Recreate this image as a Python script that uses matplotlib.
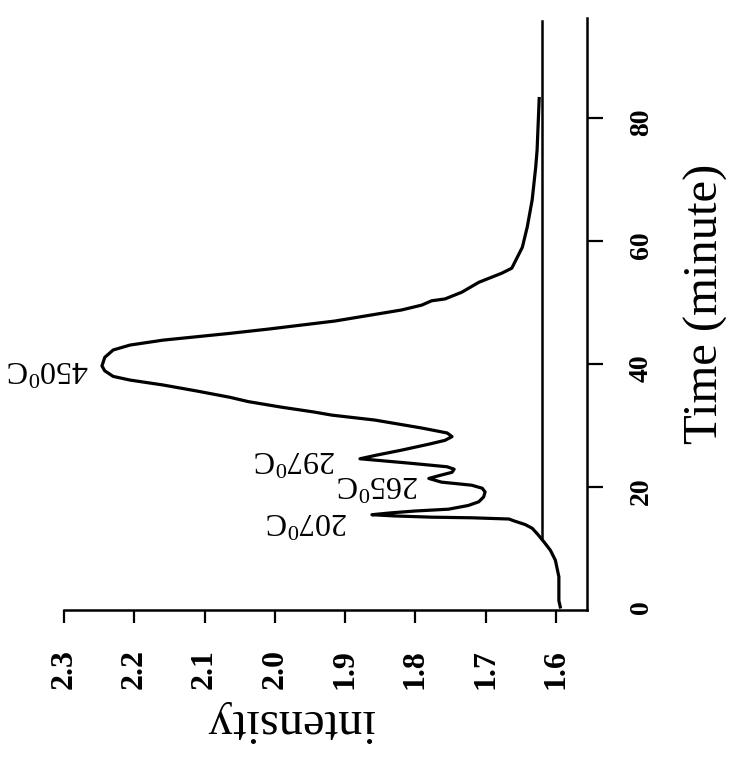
"""Rotated thermogram: intensity vs. time with labelled temperature peaks."""
import matplotlib
matplotlib.use("Agg")
import matplotlib.pyplot as plt

plt.rcParams["font.family"] = ["Liberation Serif", "DejaVu Serif"]
plt.rcParams["mathtext.fontset"] = "custom"
plt.rcParams["mathtext.rm"] = "Liberation Serif"

# curve (time in minutes, intensity)
time_min = [0.5, 1.5, 5.4, 8.1, 9.7, 10.9, 12.3, 13.3, 13.9, 14.5, 14.8, 15.0,
            15.1, 15.3, 15.5, 15.8, 16.1, 16.4, 17.0, 17.6, 18.4, 19.2, 19.8,
            20.3, 20.8, 21.4, 21.9, 22.4, 22.9, 23.3, 23.9, 24.6, 25.2, 26.0,
            27.0, 27.6, 28.2, 28.8, 29.6, 30.9, 31.7, 32.2, 33.0, 33.9, 34.6,
            35.6, 36.6, 37.4, 38.0, 38.9, 39.7, 41.1, 42.3, 43.1, 43.9, 45.0,
            45.7, 46.6, 47.0, 48.8, 49.6, 50.3, 50.6, 51.7, 53.3, 54.8, 55.6,
            59.0, 62.3, 66.7, 72.0, 74.8, 83.2]
intensity = [1.594, 1.596, 1.596, 1.601, 1.608, 1.616, 1.626, 1.634, 1.644,
             1.660, 1.667, 1.720, 1.777, 1.830, 1.862, 1.835, 1.801, 1.753,
             1.725, 1.710, 1.703, 1.701, 1.705, 1.720, 1.763, 1.781, 1.765,
             1.748, 1.745, 1.755, 1.810, 1.879, 1.855, 1.820, 1.780, 1.758,
             1.748, 1.755, 1.791, 1.858, 1.919, 1.944, 1.991, 2.038, 2.064,
             2.110, 2.159, 2.206, 2.230, 2.242, 2.246, 2.242, 2.230, 2.206,
             2.159, 2.064, 2.009, 1.944, 1.915, 1.820, 1.791, 1.777, 1.758,
             1.734, 1.710, 1.677, 1.663, 1.648, 1.641, 1.634, 1.629, 1.627,
             1.624]

baseline_time = [11.5, 95.8]
baseline_intensity = [1.620, 1.620]

peak_labels = [r"450$\mathregular{^0}$C", r"297$\mathregular{^0}$C",
               r"265$\mathregular{^0}$C", r"207$\mathregular{^0}$C"]
peak_time = [39.7, 24.6, 21.4, 15.5]
peak_intensity = [2.246, 1.879, 1.781, 1.862]
# label offsets from each peak tip, in pixels
label_dx = [-54, -65, -51, -65]
label_dy = [-2, 1, -4, -5]

intensity_ticks = [2.3, 2.2, 2.1, 2.0, 1.9, 1.8, 1.7, 1.6]
intensity_ticklabels = ["2.3", "2.2", "2.1", "2.0", "1.9", "1.8", "1.7", "1.6"]
time_ticks = [0, 20, 40, 60, 80]

W, H = 737, 761
fig = plt.figure(figsize=(W / 100, H / 100), dpi=100)
ax = fig.add_axes([64 / W, 151 / H, (587 - 64) / W, (610 - 18) / H])

ax.plot(intensity, time_min, color="black", lw=2.3, solid_joinstyle="round")
ax.plot(baseline_intensity, baseline_time, color="black", lw=1.8)

ax.set_xlim(2.3, 1.556)
ax.set_ylim(0, 96.3)

for s in ("top", "left"):
    ax.spines[s].set_visible(False)
for s in ("bottom", "right"):
    ax.spines[s].set_linewidth(1.8)

ax.yaxis.tick_right()
ax.set_xticks(intensity_ticks)
ax.set_xticklabels(intensity_ticklabels)
ax.set_yticks(time_ticks)
ax.tick_params(axis="x", direction="out", length=9.4, width=1.6, pad=18.5,
               labelsize=23, labelrotation=90)
ax.tick_params(axis="y", direction="out", length=11.5, width=1.6, pad=18.5,
               labelsize=20, labelrotation=90)
plt.setp(ax.get_xticklabels() + ax.get_yticklabels(), fontweight="bold")
ax.yaxis.get_major_ticks()[0].tick2line.set_visible(False)

for lbl, t, i, dx, dy in zip(peak_labels, peak_time, peak_intensity,
                             label_dx, label_dy):
    ax.annotate(lbl, xy=(i, t), xytext=(dx, dy), textcoords="offset pixels",
                rotation=180, ha="center", va="center", fontsize=23,
                annotation_clip=False)

fig.text(290 / W, 1 - 722 / H, "intensity", rotation=180, fontsize=35,
         ha="center", va="center")
fig.text(706 / W, 1 - 304 / H, "Time (minute)", rotation=90, fontsize=35,
         ha="center", va="center")

fig.savefig("out.png", dpi=100)
